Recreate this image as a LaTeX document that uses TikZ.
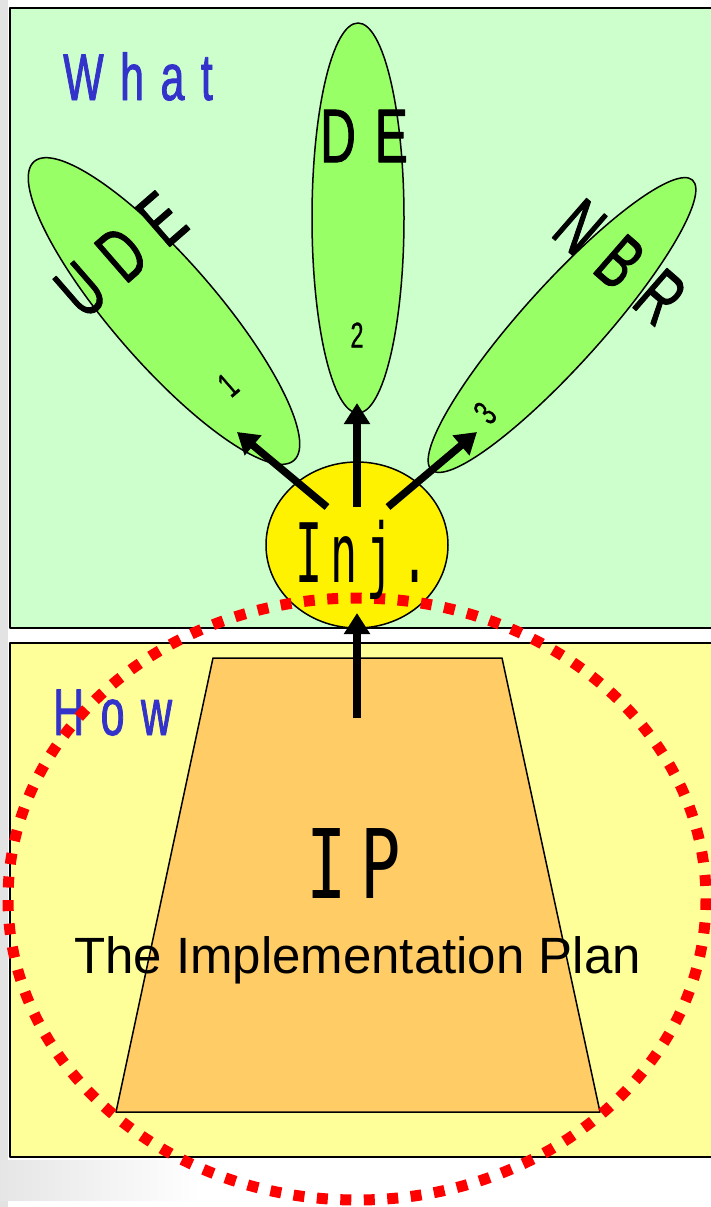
\documentclass[tikz,border=0pt]{standalone}
\usepackage{fontspec}
\usetikzlibrary{arrows.meta,shapes.geometric}
\newfontfamily\lblfont[FakeStretch=0.65,FakeBold=1.2,LetterSpace=25]{Liberation Sans}
\newfontfamily\numfont[FakeStretch=0.65,FakeBold=0.6]{Liberation Sans}
\newfontfamily\planfont{Liberation Sans}
\newfontfamily\injfont[FakeStretch=0.55,LetterSpace=10]{DejaVu Sans Mono}
\newfontfamily\ipfont[FakeStretch=0.7,LetterSpace=14]{DejaVu Sans Mono}
\definecolor{whatbg}{HTML}{CCFFCC}
\definecolor{howbg}{HTML}{FFFF99}
\definecolor{petalgreen}{HTML}{99FF66}
\definecolor{planorange}{HTML}{FFCC66}
\definecolor{tagblue}{HTML}{3333CC}

\begin{document}
\begin{tikzpicture}[x=1pt, y=-1pt, line join=round,
  petal/.style={ellipse, draw, line width=1.5pt, fill=petalgreen, inner sep=0pt},
  arr/.style={line width=7.5pt, -{Triangle[length=21pt,width=25pt]}},
  tag/.style={text=tagblue, inner sep=0pt, anchor=base west, font=\lblfont\fontsize{66}{66}\selectfont},
  letters/.style={inner sep=0pt, font=\lblfont\fontsize{76}{76}\selectfont},
  num/.style={inner sep=0pt, font=\numfont\fontsize{36}{36}\selectfont}]
  \useasboundingbox (0,0) rectangle (711,1207);
  \fill[gray!22] (0,0) rectangle (8,1207);
  \shade[left color=gray!20, right color=white] (0,1160) rectangle (200,1200);
  \draw[line width=2pt, fill=whatbg] (9.5,8) rectangle (730,628);
  \draw[line width=2pt, fill=howbg] (9.5,643) rectangle (730,1157);

  \node[petal, minimum width=396pt, minimum height=104pt, rotate=-49] (ude) at (164,311) {};
  \node[petal, minimum width=92pt, minimum height=390pt] (de) at (358,218) {};
  \node[petal, minimum width=390pt, minimum height=80pt, rotate=48] (nbr) at (562,325) {};
  \node[ellipse, draw, line width=1.5pt, fill=yellow, inner sep=0pt,
        minimum width=182pt, minimum height=166pt] (inj) at (357,545) {};

  \node[tag] (what) at (63,100) {What};
  \node[tag] (how) at (53,735) {How};
  \node[letters, rotate=41] (udetxt) at (121,255) {UDE};
  \node[letters] (detxt) at (364,136) {DE};
  \node[letters, rotate=-41] (nbrtxt) at (620,262) {NBR};
  \node[num, rotate=41] (one) at (228,385) {1};
  \node[num] (two) at (357,335) {2};
  \node[num, rotate=48] (three) at (485,413) {3};

  \coordinate (l0) at (327,507); \coordinate (l1) at (237,432);
  \coordinate (m0) at (357,507); \coordinate (m1) at (357,403);
  \coordinate (r0) at (388,507); \coordinate (r1) at (477,432);
  \coordinate (b0) at (357,718); \coordinate (b1) at (357,613);
  \draw[arr] (l0) -- (l1);
  \draw[arr] (m0) -- (m1);
  \draw[arr] (r0) -- (r1);

  \draw[line width=1.5pt, fill=planorange] (213,658) -- (502,658) -- (600,1112) -- (116,1112) -- cycle;
  \draw[arr] (b0) -- (b1);
  \node[inner sep=0pt, anchor=base, font=\ipfont\fontsize{96}{96}\selectfont] (ip) at (354,898) {IP};
  \node[inner sep=0pt, anchor=base, font=\planfont\fontsize{51}{51}\selectfont] (plan) at (357.5,973) {The Implementation Plan};

  \draw[red, line width=11pt, dash pattern=on 11pt off 12.5pt] (357,899) ellipse [x radius=349, y radius=301];
  \node[inner sep=0pt, anchor=base, font=\injfont\fontsize{82}{82}\selectfont] (injtxt) at (362,582) {Inj.};
\end{tikzpicture}
\end{document}
